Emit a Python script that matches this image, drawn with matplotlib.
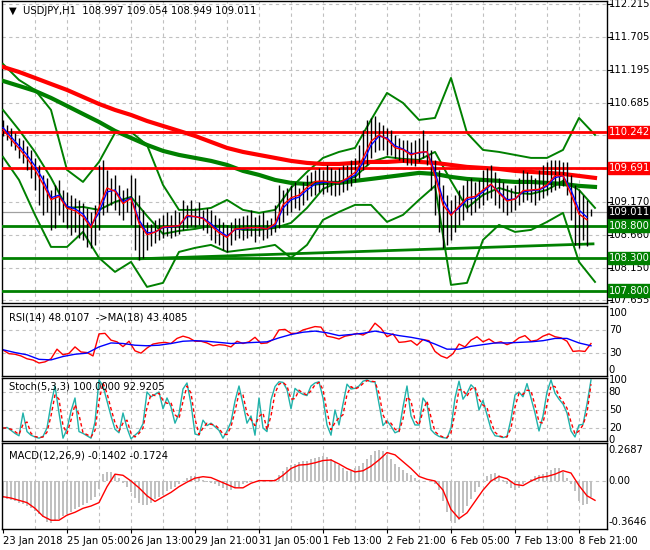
import numpy as np
import matplotlib
matplotlib.use("Agg")
import matplotlib.pyplot as plt

# ---------------- data ----------------
title_text = "USDJPY,H1  108.997 109.054 108.949 109.011"
date_labels = ["23 Jan 2018", "25 Jan 05:00", "26 Jan 13:00", "29 Jan 21:00", "31 Jan 05:00",
               "1 Feb 13:00", "2 Feb 21:00", "6 Feb 05:00", "7 Feb 13:00", "8 Feb 21:00"]
price_ticks = [112.215, 111.705, 111.195, 110.685, 110.190, 109.680, 109.170, 108.660, 108.150, 107.655]
hidden_ticks = [110.190, 109.680]   # covered by the red level boxes

# 2-hour price bars
bar_high = [110.43,110.35,110.31,110.23,110.15,110.12,110.03,109.97,109.84,109.74,109.58,109.54,109.35,109.43,109.51,109.35,
            109.32,109.27,109.23,109.20,109.15,109.07,109.01,109.12,109.74,109.81,109.66,109.54,109.58,109.43,109.35,109.38,
            109.58,109.54,109.27,109.04,108.86,108.83,108.89,108.92,108.97,109.01,108.97,109.04,109.01,109.20,109.12,109.20,
            109.07,109.17,109.04,109.07,109.04,108.97,108.92,108.86,108.81,108.86,108.92,108.92,108.95,108.97,109.04,108.94,
            108.97,109.01,108.89,108.92,109.12,109.43,109.35,109.38,109.43,109.47,109.38,109.47,109.58,109.63,109.66,109.69,
            109.66,109.74,109.69,109.66,109.69,109.74,109.74,109.81,109.84,110.04,110.28,110.43,110.46,110.49,110.40,110.35,
            110.31,110.28,110.20,110.15,110.12,110.12,110.09,110.12,110.15,110.28,110.12,109.97,109.81,109.66,109.43,109.27,
            109.20,109.27,109.35,109.43,109.51,109.54,109.47,109.51,109.66,109.69,109.74,109.63,109.54,109.47,109.43,109.38,
            109.43,109.54,109.66,109.63,109.58,109.54,109.66,109.74,109.78,109.81,109.81,109.81,109.78,109.78,109.58,109.43,
            109.35,109.27,109.20,109.05]
bar_low = [110.18,110.12,110.03,109.97,109.84,109.77,109.66,109.54,109.35,109.12,108.97,109.01,108.74,108.77,108.97,108.86,
           108.77,108.66,108.70,108.61,108.58,108.47,108.46,108.50,108.74,108.97,109.01,109.12,109.04,108.97,108.89,109.01,
           108.81,108.43,108.27,108.30,108.43,108.49,108.54,108.58,108.61,108.64,108.61,108.64,108.67,108.74,108.77,108.80,
           108.78,108.81,108.74,108.69,108.58,108.54,108.50,108.43,108.40,108.50,108.58,108.61,108.58,108.61,108.64,108.55,
           108.64,108.58,108.61,108.66,108.70,108.77,108.86,108.97,109.01,109.07,109.04,109.12,109.20,109.26,109.27,109.32,
           109.29,109.32,109.27,109.26,109.27,109.32,109.35,109.41,109.47,109.54,109.66,109.74,109.84,109.94,109.97,109.97,
           109.89,109.89,109.84,109.81,109.78,109.74,109.74,109.72,109.78,109.84,109.74,109.35,108.97,108.70,108.46,108.50,
           108.58,108.70,108.81,108.89,109.01,108.97,109.01,109.07,109.12,109.20,109.23,109.12,109.07,109.01,108.97,109.01,
           109.04,109.12,109.17,109.20,109.17,109.12,109.20,109.23,109.27,109.32,109.35,109.38,109.41,109.27,108.89,108.50,
           108.46,108.58,108.49,108.95]

# fast (red) and slow (blue) moving averages, 4-hour steps
ma_fast = [110.28,110.13,109.99,109.84,109.66,109.44,109.20,109.25,109.07,109.03,108.94,108.77,109.08,109.38,109.33,109.14,
           109.22,108.84,108.66,108.70,108.78,108.79,108.80,108.96,108.94,108.91,108.80,108.69,108.62,108.75,108.76,108.77,
           108.77,108.75,108.83,109.12,109.23,109.27,109.39,109.48,109.49,109.47,109.46,109.53,109.62,109.84,110.10,110.20,
           110.13,110.00,109.97,109.89,109.93,109.94,109.56,109.12,108.96,109.10,109.23,109.25,109.35,109.44,109.30,109.18,
           109.21,109.34,109.35,109.36,109.43,109.57,109.57,109.28,108.98,108.89]
ma_slow = [110.31,110.17,110.03,109.89,109.72,109.51,109.23,109.27,109.10,109.06,108.98,108.80,109.00,109.32,109.35,109.17,
           109.23,108.89,108.69,108.70,108.77,108.78,108.80,108.94,108.94,108.92,108.83,108.72,108.64,108.74,108.75,108.77,
           108.77,108.75,108.80,109.07,109.20,109.24,109.35,109.44,109.47,109.47,109.46,109.51,109.58,109.77,110.04,110.18,
           110.15,110.03,109.98,109.91,109.92,109.94,109.63,109.20,108.98,109.07,109.20,109.23,109.32,109.43,109.32,109.20,
           109.21,109.32,109.34,109.35,109.41,109.54,109.57,109.35,109.04,108.93]

# long averages and Bollinger lines, 8-hour steps
ma_long_red = [111.245,111.168,111.076,110.983,110.891,110.783,110.675,110.583,110.506,110.413,110.336,110.260,110.183,
               110.090,109.998,109.936,109.890,109.844,109.798,109.767,109.751,109.751,109.767,109.782,109.782,109.798,
               109.782,109.767,109.736,109.705,109.690,109.674,109.644,109.628,109.613,109.597,109.567,109.536]
ma_long_green = [111.030,110.953,110.876,110.768,110.645,110.521,110.398,110.260,110.152,110.044,109.952,109.890,109.844,
                 109.798,109.736,109.644,109.582,109.505,109.459,109.443,109.459,109.459,109.490,109.520,109.551,109.582,
                 109.613,109.597,109.551,109.520,109.505,109.490,109.474,109.474,109.459,109.443,109.413,109.397]
band_up = [111.291,111.045,110.891,110.583,109.659,109.474,109.782,110.229,110.244,110.044,109.428,109.043,109.043,109.074,
           109.197,109.043,108.997,109.043,109.382,109.628,109.844,109.936,109.998,110.429,110.845,110.691,110.429,110.460,
           111.076,110.229,109.967,109.936,109.890,109.844,109.844,109.967,110.460,110.198]
band_mid = [110.583,110.275,109.936,109.536,109.074,109.089,109.043,109.166,109.243,108.951,108.674,108.720,108.750,108.797,
            108.797,108.735,108.735,108.766,108.843,109.074,109.366,109.474,109.551,109.782,109.859,109.828,109.813,109.936,
            109.490,109.074,109.274,109.382,109.305,109.289,109.351,109.490,109.351,109.074]
band_lo = [109.859,109.505,108.966,108.473,108.473,108.704,108.304,108.088,108.242,107.857,107.919,108.396,108.458,108.504,
           108.396,108.427,108.458,108.504,108.304,108.504,108.889,109.012,109.120,109.120,108.858,108.966,109.197,109.413,
           107.888,107.919,108.581,108.812,108.704,108.735,108.858,108.997,108.242,107.934]

red_levels = [110.242, 109.691]
green_levels = [108.800, 108.300, 107.800]
last_price = 109.011
trend_t = [68, 295]
trend_p = [108.29, 108.52]

# RSI (3-hour steps) and its MA (6-hour steps)
rsi = [34.5,28,27,24,19,16.7,11.5,13.5,19,36,26,28.6,40,31,30,24,63,64,52,49,40.5,50,33,29,38,45,47,48,46,55,59,56,50,
       50,47,42,44,43,40,50,46,49,57,46,47,53,70,71,64,64,70,73,76,75,59,57,54,59,61,64,61,67,82,73,58,63,48,49,51,43,
       53,51,32,24,20,28,45,40,52,58,49,54,47,49,44,48,56,60,50,52,59,63,58,56,50,32,33,32,46]
rsi_ma = [35,30,26,18,17,23,27,29,40,47,46,43,42,43,46,50,51,50,48,46,47,48,49,56,62,66,68,65,60,62,64,68,64,60,57,53,
          45,36,36,41,44,47,47,48,49,51,55,55,47,42]

# Stochastic main and signal (2-hour steps)
stoch_main = [19,21,16,11,7,45,14,8,5,3,6,20,60,90,45,3,18,48,70,14,11,7,3,30,100,90,65,40,18,12,45,20,2,8,14,27,80,72,
              76,80,52,70,55,28,44,85,95,60,10,8,33,24,28,22,16,3,15,30,65,90,60,28,40,8,70,20,14,67,89,97,96,84,52,86,
              80,76,74,90,95,97,70,25,8,50,25,60,93,85,86,90,98,100,97,97,60,24,32,23,12,15,55,90,40,25,25,70,60,17,10,6,
              4,3,20,70,98,68,78,92,85,50,66,42,18,7,6,4,6,35,75,80,72,94,70,45,15,40,80,100,78,68,60,45,15,5,25,26,60,100]
stoch_sig = [20,20,18,14,9,26,30,11,6,4,5,13,40,75,68,24,11,33,59,42,12,9,5,16,65,95,78,52,29,15,28,33,11,5,11,20,54,76,
             74,78,66,61,62,42,36,64,90,78,35,9,20,28,26,25,19,10,9,22,48,78,75,44,34,24,39,45,17,40,78,93,96,90,68,69,
             83,78,75,82,92,96,84,48,17,29,37,42,76,89,85,88,94,99,98,97,78,42,28,28,18,14,35,72,65,33,25,48,65,38,14,8,
             5,4,12,45,84,83,73,85,88,68,58,54,30,13,7,5,5,20,55,78,76,83,82,58,30,28,60,90,89,73,64,53,30,10,15,25,45,93]

# MACD main (histogram, 2-hour steps) and signal (4-hour steps)
macd_main = [-0.15,-0.16,-0.17,-0.18,-0.19,-0.20,-0.22,-0.24,-0.26,-0.29,-0.32,-0.36,-0.365,-0.35,-0.33,-0.31,-0.29,-0.27,
             -0.25,-0.23,-0.21,-0.19,-0.17,-0.14,-0.07,0.06,0.08,0.08,0.06,0.03,-0.02,-0.05,-0.10,-0.15,-0.19,-0.21,-0.21,
             -0.19,-0.16,-0.14,-0.12,-0.09,-0.07,-0.05,-0.03,0.00,0.03,0.04,0.04,0.03,0.01,-0.01,-0.02,-0.03,-0.04,-0.06,
             -0.08,-0.08,-0.06,-0.05,-0.03,-0.02,-0.01,0.00,0.01,0.00,0.00,0.01,0.02,0.05,0.09,0.12,0.14,0.15,0.17,0.18,
             0.18,0.19,0.20,0.21,0.22,0.21,0.19,0.17,0.14,0.11,0.09,0.09,0.11,0.13,0.16,0.19,0.23,0.26,0.27,0.26,0.23,0.19,
             0.15,0.12,0.10,0.07,0.05,0.03,0.01,0.00,0.00,-0.01,-0.03,-0.08,-0.18,-0.27,-0.35,-0.37,-0.34,-0.28,-0.22,
             -0.16,-0.10,-0.05,0.00,0.04,0.06,0.07,0.05,0.01,-0.03,-0.06,-0.08,-0.06,-0.03,0.00,0.02,0.04,0.05,0.06,0.08,
             0.10,0.11,0.11,0.08,0.03,-0.03,-0.09,-0.18,-0.21,-0.20,-0.14]
macd_signal = [-0.138,-0.15,-0.17,-0.19,-0.24,-0.31,-0.345,-0.345,-0.30,-0.275,-0.24,-0.22,-0.19,-0.05,0.06,0.05,0.0,
               -0.06,-0.13,-0.18,-0.14,-0.10,-0.05,-0.01,0.025,0.038,0.03,0.0,-0.03,-0.06,-0.06,-0.02,0.003,0.003,0.003,
               0.05,0.11,0.14,0.145,0.16,0.18,0.185,0.15,0.11,0.08,0.09,0.13,0.185,0.25,0.23,0.17,0.11,0.04,0.015,0.0,
               -0.08,-0.25,-0.33,-0.28,-0.18,-0.08,0.0,0.04,0.02,-0.03,-0.04,0.0,0.03,0.04,0.06,0.09,0.07,-0.04,-0.13,-0.17]

# ---------------- styling ----------------
RED = "#ff0000"
GREEN = "#008000"
BLUE = "#0000ff"
TEAL = "#20b2aa"
GRID = "#c0c0c0"
FS = 7.2
plt.rcParams['font.family'] = ['DejaVu Sans']

W, H = 650, 550
fig = plt.figure(figsize=(W / 100, H / 100), dpi=100)
fig.patch.set_facecolor("white")

def make_ax(top, bottom):
    ax = fig.add_axes([2 / W, 1 - bottom / H, 605 / W, (bottom - top) / H])
    ax.set_xlim(-0.5, 302)
    for s in ax.spines.values():
        s.set_color("black")
        s.set_linewidth(1.0)
    ax.tick_params(left=False, labelleft=False, bottom=False, labelbottom=False,
                   right=False, labelright=False)
    for t in range(16, 300, 16):
        ax.axvline(t, color=GRID, lw=0.8, ls=(0, (3, 3)), zorder=0)
    return ax

def rlabel(ax, y, txt, color="black", box=None, txtcolor=None):
    kw = {}
    if box is not None:
        kw["bbox"] = dict(boxstyle="square,pad=0.12", fc=box, ec=box)
    ax.text(1.003, y, txt, transform=ax.get_yaxis_transform(), fontsize=FS,
            color=txtcolor or color, va="center", ha="left", clip_on=False, **kw)

t2 = np.arange(0, 296, 2)
t4 = np.arange(0, 296, 4)
t8 = np.arange(0, 304, 8)

# ---------------- main panel ----------------
ax = make_ax(1, 303)
ax.set_ylim(107.609, 112.261)
for p in price_ticks:
    ax.axhline(p, color=GRID, lw=0.8, ls=(0, (3, 3)), zorder=0)
    ax.plot([1.0, 1.008], [p, p], transform=ax.get_yaxis_transform(), color="black", lw=0.8, clip_on=False)
    if p not in hidden_ticks:
        rlabel(ax, p, f"{p:.3f}")

ax.axhline(last_price, color="#a0a0a0", lw=0.9, zorder=1)
for band in (band_up, band_mid, band_lo):
    ax.plot(t8[:len(band)], band, color=GREEN, lw=1.4, zorder=3)
ax.plot(t8[:len(ma_long_green)], ma_long_green, color=GREEN, lw=3.0, zorder=3)
ax.plot(t8[:len(ma_long_red)], ma_long_red, color=RED, lw=3.0, zorder=3)
for lv in red_levels:
    ax.axhline(lv, color=RED, lw=2.0, zorder=4)
for lv in green_levels:
    ax.axhline(lv, color=GREEN, lw=2.0, zorder=4)
ax.plot(trend_t, trend_p, color=GREEN, lw=2.0, zorder=4)
ax.vlines(t2, bar_low, bar_high, color="black", lw=1.0, zorder=5)
ax.plot(t4, ma_slow, color=BLUE, lw=1.0, zorder=6)
ax.plot(t4, ma_fast, color=RED, lw=1.0, zorder=6)

for lv in red_levels:
    rlabel(ax, lv, f"{lv:.3f}", box=RED, txtcolor="white")
for lv in green_levels:
    rlabel(ax, lv, f"{lv:.3f}", box=GREEN, txtcolor="white")
rlabel(ax, last_price, f"{last_price:.3f}", box="black", txtcolor="white")

ax.text(0.012, 0.968, "\u25bc  " + title_text, transform=ax.transAxes, fontsize=FS,
        va="center", ha="left", color="black")

# ---------------- RSI ----------------
ax1 = make_ax(306, 376)
ax1.set_ylim(-11.5, 112.4)
for lv in (70, 30):
    ax1.axhline(lv, color=GRID, lw=0.8, ls=(0, (3, 3)), zorder=0)
ax1.plot(np.arange(0, 297, 3), rsi, color=RED, lw=1.0)
ax1.plot(np.arange(0, 300, 6), rsi_ma, color=BLUE, lw=1.0)
for v in (100, 70, 30, 0):
    rlabel(ax1, v, str(v))
ax1.text(0.012, 0.84, "RSI(14) 48.0107  ->MA(18) 43.4085", transform=ax1.transAxes,
         fontsize=FS, va="center", ha="left")

# ---------------- Stochastic ----------------
ax2 = make_ax(378, 441)
ax2.set_ylim(-1.7, 103.3)
for lv in (80, 50, 20):
    ax2.axhline(lv, color=GRID, lw=0.8, ls=(0, (3, 3)), zorder=0)
ax2.plot(t2, stoch_main, color=TEAL, lw=1.0)
ax2.plot(t2, stoch_sig, color=RED, lw=1.0, ls=(0, (2.5, 2)))
for v in (100, 80, 50, 20, 0):
    rlabel(ax2, v, str(v))
ax2.text(0.012, 0.86, "Stoch(5,3,3) 100.0000 92.9205", transform=ax2.transAxes,
         fontsize=FS, va="center", ha="left")

# ---------------- MACD ----------------
ax3 = make_ax(443, 529)
ax3.set_ylim(-0.422, 0.334)
ax3.axhline(0, color=GRID, lw=0.8, ls=(0, (3, 3)), zorder=0)
ax3.bar(t2, macd_main, width=1.0, color="#c0c0c0", zorder=1)
ax3.plot(np.arange(0, 4 * len(macd_signal), 4), macd_signal, color=RED, lw=1.0, zorder=2)
for v, s in ((0.2687, "0.2687"), (0.0, "0.00"), (-0.3646, "-0.3646")):
    rlabel(ax3, v, s)
ax3.text(0.012, 0.85, "MACD(12,26,9) -0.1402 -0.1724", transform=ax3.transAxes,
         fontsize=FS, va="center", ha="left")

# date labels
ax3.set_xticks(np.arange(0, 320, 32)[:len(date_labels)])
ax3.set_xticklabels(date_labels)
ax3.tick_params(bottom=True, labelbottom=True, length=3, width=0.8, labelsize=FS, pad=2)
for lab in ax3.get_xticklabels():
    lab.set_ha("left")

fig.savefig("out.png", dpi=100, facecolor="white")
